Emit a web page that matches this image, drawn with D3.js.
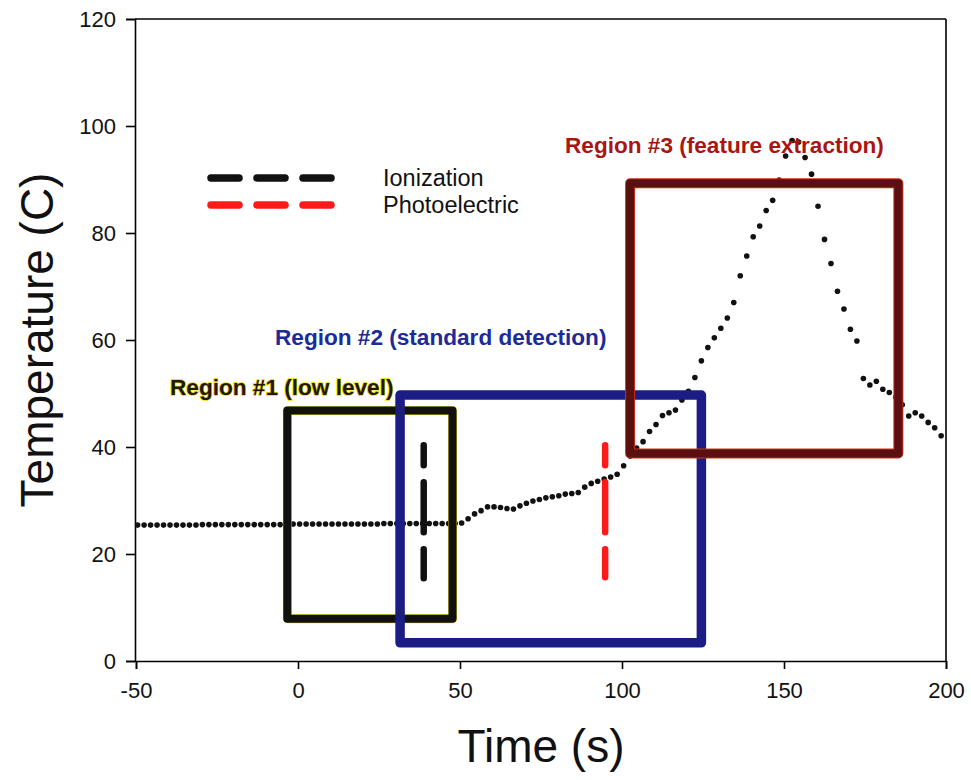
<!DOCTYPE html>
<html>
<head>
<meta charset="utf-8">
<script src="https://cdn.jsdelivr.net/npm/d3@7"></script>
<style>
  html, body { margin: 0; padding: 0; background: #fff; }
  svg { display: block; font-family: "Liberation Sans", Arial, sans-serif; }
</style>
</head>
<body>
<svg id="chart" width="971" height="780"></svg>
<script>
// ---- data ----
const times = [
  -49.5, -47.5, -45.5, -43.5, -41.5, -39.5, -37.5, -35.5, -33.5, -31.5,
  -29.5, -27.5, -25.5, -23.5, -21.5, -19.5, -17.5, -15.5, -13.5, -11.5,
  -9.5, -7.5, -5.5, -3.5, -1.5, 0.5, 2.5, 4.5, 6.5, 8.5,
  10.5, 12.5, 14.5, 16.5, 18.5, 20.5, 22.5, 24.5, 26.5, 28.5,
  30.5, 32.5, 34.5, 36.5, 38.5, 40.5, 42.5, 44.5, 46.5, 48.5,
  50.5, 52.5, 54.5, 56.5, 58.5, 60.5, 62.5, 64.5, 66.5, 68.5,
  70.5, 72.5, 74.5, 76.5, 78.5, 80.5, 82.5, 84.5, 86.5, 88.5,
  90.5, 92.5, 94.5, 96.5, 98.5, 100.5, 102.5, 104.5, 106.5, 108.5,
  110.5, 112.5, 114.5, 116.5, 118.5, 120.5, 122.5, 124.5, 126.5, 128.5,
  130.5, 132.5, 134.5, 136.5, 138.5, 140.5, 142.5, 144.5, 146.5, 148.5,
  150.5, 152.5, 154.5, 156.5, 158.5, 160.5, 162.5, 164.5, 166.5, 168.5,
  170.5, 172.5, 174.5, 176.5, 178.5, 180.5, 182.5, 184.5, 186.5, 188.5,
  190.5, 192.5, 194.5, 196.5, 198.5
];
const temperature = [
  25.4, 25.4, 25.4, 25.4, 25.4, 25.4, 25.4, 25.4, 25.4, 25.4,
  25.5, 25.5, 25.5, 25.5, 25.5, 25.5, 25.5, 25.5, 25.5, 25.5,
  25.5, 25.5, 25.5, 25.5, 25.6, 25.6, 25.6, 25.6, 25.6, 25.6,
  25.6, 25.6, 25.6, 25.6, 25.6, 25.6, 25.6, 25.6, 25.7, 25.7,
  25.7, 25.7, 25.7, 25.7, 25.7, 25.7, 25.7, 25.7, 25.7, 25.7,
  25.8, 26.6, 27.5, 28.1, 28.8, 28.8, 28.7, 28.5, 28.4, 29.0,
  29.5, 29.9, 30.2, 30.5, 30.7, 30.9, 31.2, 31.3, 31.5, 32.5,
  33.2, 33.6, 34.0, 34.4, 34.9, 36.5, 38.3, 39.8, 41.0, 42.9,
  44.2, 45.9, 46.4, 46.9, 48.8, 50.4, 53.0, 56.1, 58.6, 60.4,
  62.2, 64.1, 67.0, 72.0, 75.7, 79.3, 81.3, 84.2, 86.1, 89.9,
  94.4, 97.3, 97.0, 94.1, 91.0, 85.0, 78.8, 74.3, 69.1, 65.8,
  62.0, 59.8, 52.8, 51.6, 52.3, 50.8, 50.2, 49.3, 47.9, 45.8,
  46.4, 45.8, 44.6, 43.6, 42.1
];
const xTicks = [-50, 0, 50, 100, 150, 200];
const yTicks = [0, 20, 40, 60, 80, 100, 120];

// region boxes: [t0, t1, v0, v1]
const regionNames = ["Region #1 (low level)", "Region #2 (standard detection)", "Region #3 (feature extraction)"];
const regionT0 = [-3.3, 31.5, 102.5];
const regionT1 = [47.7, 124.5, 185.3];
const regionV0 = [7.9, 3.4, 38.8];
const regionV1 = [46.8, 49.7, 89.3];

// alarm times (dashed verticals)
const alarmNames = ["Ionization", "Photoelectric"];
const alarmTimes = [38.8, 94.8];
const alarmV0 = [14.5, 15.0];
const alarmV1 = [41.0, 41.0];

// ---- layout ----
const W = 971, H = 780;
const m = { left: 136, right: 25, top: 19, bottom: 119 };
const svg = d3.select("#chart");
const x = d3.scaleLinear().domain([-50, 200]).range([m.left, W - m.right]);
const y = d3.scaleLinear().domain([0, 120]).range([H - m.bottom, m.top]);

const alarmColors = ["#111111", "#ff1a1a"];
const regionStroke = ["#111111", "#1c1c86", "#5a1010"];
const regionHalo = ["#e8d000", "#1c1c86", "#c8321a"];
const regionHaloW = [8.8, 9.5, 10];
const regionTextFill = ["#1e1a00", "#1c2a9a", "#a8160f"];

// ---- frame ----
const g = svg.append("g");
g.append("line").attr("x1", x(-50) - 1).attr("x2", x(200)).attr("y1", y(120)).attr("y2", y(120))
  .attr("stroke", "#000").attr("stroke-width", 1.6);
g.append("line").attr("x1", x(200)).attr("x2", x(200)).attr("y1", y(120)).attr("y2", y(0))
  .attr("stroke", "#000").attr("stroke-width", 1.6);

const xAxis = g.append("g").attr("transform", `translate(0,${y(0)})`)
  .call(d3.axisBottom(x).tickValues(xTicks).tickSize(8).tickPadding(13).tickFormat(d => String(d)));
const yAxis = g.append("g").attr("transform", `translate(${x(-50) - 1},0)`)
  .call(d3.axisLeft(y).tickValues(yTicks).tickSize(9).tickPadding(10).tickFormat(d => String(d)));
[xAxis, yAxis].forEach(a => {
  a.select(".domain").attr("stroke", "#000").attr("stroke-width", 1.6);
  a.selectAll(".tick line").attr("stroke", "#000").attr("stroke-width", 1.6);
  a.selectAll(".tick text").attr("fill", "#111").style("font-size", "22px")
   .style("font-family", "'Liberation Sans', Arial, sans-serif");
});

// ---- data dots ----
g.append("g").selectAll("circle").data(times).join("circle")
  .attr("cx", (d) => x(d))
  .attr("cy", (d, i) => y(temperature[i]))
  .attr("r", 2.8)
  .attr("fill", "#111");

// ---- region boxes ----
const boxes = g.append("g");
regionNames.forEach((name, i) => {
  const bx = x(regionT0[i]), by = y(regionV1[i]);
  const bw = x(regionT1[i]) - bx, bh = y(regionV0[i]) - by;
  boxes.append("rect").attr("x", bx).attr("y", by).attr("width", bw).attr("height", bh)
    .attr("fill", "none").attr("stroke", regionHalo[i]).attr("stroke-width", regionHaloW[i])
    .attr("stroke-linejoin", "round");
  boxes.append("rect").attr("x", bx).attr("y", by).attr("width", bw).attr("height", bh)
    .attr("fill", "none").attr("stroke", regionStroke[i]).attr("stroke-width", 8)
    .attr("stroke-linejoin", "round");
});

// ---- alarm dashed lines ----
alarmTimes.forEach((t, i) => {
  g.append("line")
    .attr("x1", x(t)).attr("x2", x(t))
    .attr("y1", y(alarmV1[i]) + 3.5).attr("y2", y(alarmV0[i]) - 3.5)
    .attr("stroke", alarmColors[i]).attr("stroke-width", 6.5)
    .attr("stroke-linecap", "round")
    .attr("stroke-dasharray", "20,17,50,17,29");
});

// ---- region labels ----
const labelX = [170, 275, 565];
const labelY = [395, 345, 153];
regionNames.forEach((name, i) => {
  const t = g.append("text").attr("x", labelX[i]).attr("y", labelY[i])
    .attr("fill", regionTextFill[i])
    .style("font-size", "22.6px").style("font-weight", "bold")
    .text(name);
  if (i === 0) {
    t.attr("stroke", "#f0d800").attr("stroke-width", 1.4).attr("paint-order", "stroke");
  }
});

// ---- legend ----
const lg = g.append("g");
alarmNames.forEach((name, i) => {
  const ly = 178 + i * 27;
  lg.append("line").attr("x1", 211).attr("x2", 331).attr("y1", ly).attr("y2", ly)
    .attr("stroke", alarmColors[i]).attr("stroke-width", 7.5)
    .attr("stroke-linecap", "round").attr("stroke-dasharray", "28,18");
  lg.append("text").attr("x", 383).attr("y", ly + 8)
    .attr("fill", "#111").style("font-size", "23.5px").text(name);
});

// ---- axis titles ----
g.append("text").attr("x", (x(-50) + x(200)) / 2).attr("y", 762)
  .attr("text-anchor", "middle").attr("fill", "#111").style("font-size", "46px")
  .text("Time (s)");
g.append("text").attr("transform", `translate(53,${(y(0) + y(120)) / 2}) rotate(-90)`)
  .attr("text-anchor", "middle").attr("fill", "#111").style("font-size", "46px")
  .text("Temperature (C)");
</script>
</body>
</html>
